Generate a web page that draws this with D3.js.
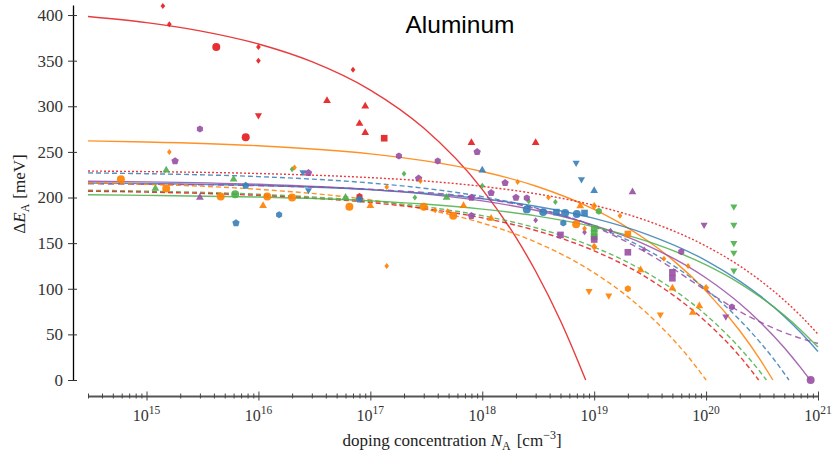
<!DOCTYPE html>
<html>
<head>
<meta charset="utf-8">
<script src="https://cdn.jsdelivr.net/npm/d3@7"></script>
<style>
  body { margin: 0; background: #fff; }
  svg { display: block; }
  .serif { font-family: "Liberation Serif", "DejaVu Serif", serif; }
</style>
</head>
<body>
<svg id="chart" width="840" height="452"></svg>
<script>
// colours of the five groups
var red = "#e41a1c", blue = "#377eb8", green = "#4daf4a", purple = "#984ea3", orange = "#ff7f00";

// fit curves, [N_A in cm^-3, dE_A in meV]
var fitRedSolid = [[3e14,398.4],[1e15,391.7],[3e15,382.7],[1e16,368.3],[3e16,348.9],[1e17,317.8],[3e17,276.1],[1e18,209],[2e18,156.2],[3e18,119.2],[5e18,64.9],[7e18,23.6],[8.4e18,0]];
var fitOrangeSolid = [[3e14,262.1],[1e15,260.9],[1e16,256.7],[1e17,247.8],[3e17,240.4],[1e18,228.5],[3e18,212.6],[1e19,186.9],[2e19,166.8],[3e19,152.6],[5e19,131.9],[1e20,97.4],[2e20,54.0],[3e20,23.5],[3.95e20,0]];
var fitRedDotted = [[3e14,229.0],[1e15,228.4],[1e16,226.3],[1e17,221.8],[3e17,218.2],[1e18,212.2],[3e18,204.2],[1e19,191.4],[3e19,174.3],[1e20,146.7],[2e20,125.0],[3e20,109.7],[5e20,87.3],[7e20,70.4],[1e21,50.2]];
var fitBlueDashed = [[3e14,227.0],[1e15,226.1],[1e16,222.9],[1e17,215.9],[3e17,210.2],[1e18,201.0],[3e18,188.7],[1e19,168.8],[3e19,142.2],[1e20,99.4],[2e20,65.7],[3e20,42.1],[4e20,23.3],[5.5e20,0]];
var fitPurpleSolid = [[3e14,217.9],[1e15,217.2],[1e16,214.5],[1e17,208.7],[3e17,204.0],[1e18,196.3],[3e18,186.0],[1e19,169.5],[3e19,147.4],[1e20,111.8],[2e20,83.8],[3e20,64.2],[5e20,35.4],[7e20,13.5],[8.5e20,0]];
var fitBlueSolid = [[3e14,215.9],[1e15,215.3],[1e16,213.2],[1e17,208.6],[3e17,204.7],[1e18,198.6],[3e18,190.4],[1e19,177.1],[3e19,159.4],[1e20,130.9],[2e20,108.4],[3e20,92.7],[5e20,69.6],[7e20,52.0],[1e21,31.2]];
var fitPurpleDashed = [[3e14,215],[1e15,214.5],[1e16,213],[1e17,209],[1e18,199],[3e18,188],[1e19,168],[2.2e19,148],[4.5e19,126],[1e20,98],[2e20,75],[3e20,64],[5e20,52],[1e21,40]];
var fitOrangeDashed = [[3e14,216.0],[1e15,214.5],[1e16,209.0],[1e17,197.3],[3e17,187.6],[1e18,172.0],[3e18,151.1],[1e19,117.5],[2e19,91.1],[3e19,72.5],[5e19,45.3],[7e19,24.7],[1e20,0]];
var fitGreenDashed = [[3e14,208.0],[1e15,207.0],[1e16,203.6],[1e17,196.1],[3e17,190.0],[1e18,180.1],[3e18,166.9],[1e19,145.6],[3e19,117.1],[1e20,71.2],[2e20,35.1],[3e20,9.8],[3.46e20,0]];
var fitRedDashed = [[3e14,206.9],[1e15,205.9],[1e16,202.3],[1e17,194.5],[3e17,188.0],[1e18,177.7],[3e18,163.9],[1e19,141.6],[3e19,111.7],[1e20,63.7],[2e20,26.0],[2.95e20,0]];
var fitGreenSolid = [[3e14,203.0],[1e15,202.4],[1e16,200.5],[1e17,196.3],[3e17,192.9],[1e18,187.3],[3e18,179.9],[1e19,167.9],[3e19,151.9],[1e20,126.1],[2e20,105.9],[3e20,91.6],[5e20,70.8],[7e20,54.9],[1e21,36.1]];

// measurements, [N_A, dE_A, source marker]
var ptsRed = [[1.4e15,410,"d"],[1.6e15,390,"d"],[4.2e15,365,"o"],[1e16,365,"d"],[1e16,350,"d"],[1e16,290,"v"],[7.7e15,266,"o"],
  [7e16,340,"d"],[4.1e16,306,"^"],[9e16,300,"^"],[8e16,281,"^"],[9e16,271,"^"],[1.33e17,265,"s"],[8e17,260,"^"],[3e18,260,"^"],[8e16,201,"h"]];
var ptsBlue = [[7.7e15,213,"p"],[6.3e15,172,"p"],[1.53e16,181,"h"],[2.5e16,227.5,"v"],[2.8e16,208,"v"],[8e16,198,"p"],[1e18,230,"^"],
  [6.9e18,238,"v"],[7.7e18,220,"v"],[1e19,207.5,"^"],[2.5e18,187,"o"],[3.5e18,184,"o"],[4.6e18,184,"s"],[5.5e18,183,"o"],[5.3e18,172,"h"],
  [7e18,182,"o"],[8.2e18,183,"s"]];
var ptsGreen = [[1.5e15,230,"^"],[6e15,220,"^"],[1.2e15,210,"^"],[6.2e15,203.5,"o"],[2e16,231,"d"],[6e16,200,"^"],[2e17,226,"d"],
  [2.5e17,200,"d"],[4.8e17,200,"^"],[1e18,213,"d"],[4.5e18,195,"d"],[2.6e18,196,"d"],[1.1e19,185,"h"],[1e19,166,"s"],[1e19,161,"s"],
  [1e19,157,"s"],[1.77e20,190,"v"],[1.77e20,170,"v"],[1.77e20,150,"v"],[1.77e20,139.5,"v"],[1.77e20,120,"v"]];
var ptsPurple = [[3e15,275,"h"],[1.8e15,240,"p"],[3e15,200,"^"],[2.8e16,227,"p"],[1.8e17,245.5,"h"],[4e17,240,"h"],[2.7e17,221,"p"],
  [9e17,250,"p"],[1.6e18,216,"p"],[1.2e18,205,"p"],[8e17,200,"p"],[2e18,200,"p"],[2.5e18,199.5,"h"],[8e17,180,"p"],[3e18,175,"d"],
  [5e18,159,"s"],[2.2e19,206,"^"],[9.6e19,170,"v"],[8.2e18,162,"d"],[1e19,154,"s"],[2e19,140,"s"],[2.8e19,143,"d"],[1.4e19,163.6,"d"],
  [6e19,140.6,"h"],[5e19,118,"s"],[5e19,111.5,"s"],[1.7e20,80,"h"],[1.5e20,69.5,"v"],[8.6e20,0,"o"]];
var ptsOrange = [[1.6e15,250,"d"],[5.9e14,220,"o"],[1.5e15,210,"o"],[4.6e15,201,"o"],[1.2e16,201,"o"],[1.1e16,191,"^"],[2.1e16,233,"d"],
  [2e16,200,"o"],[6.5e16,190,"o"],[1e17,191,"^"],[1.4e17,211.5,"d"],[2.8e17,218,"d"],[3e17,190,"o"],[1.4e17,125,"d"],[3.8e17,186,"d"],
  [4.9e17,185,"d"],[5.5e17,180,"o"],[6.8e17,191,"^"],[1.2e18,177,"^"],[2.07e18,217,"d"],[3.9e18,200,"d"],[6.9e18,170.6,"o"],
  [7.5e18,190.7,"^"],[1e19,190.7,"D"],[1.7e19,180,"d"],[8.2e18,166,"d"],[1e19,146,"D"],[2e19,160,"s"],[2.6e19,120.6,"^"],
  [4.2e19,133,"d"],[6.9e19,125,"d"],[5e19,100.5,"^"],[1e20,101,"D"],[8.7e19,81,"^"],[7.6e19,74,"^"],[9e18,97.5,"v"],
  [1.35e19,92.5,"v"],[2e19,100,"h"],[3.9e19,71.7,"v"]];

var yTicks = [0, 50, 100, 150, 200, 250, 300, 350, 400];
var xDecades = [15, 16, 17, 18, 19, 20, 21];

var svg = d3.select("#chart");
svg.append("rect").attr("width", 840).attr("height", 452).attr("fill", "#fff");

var x = d3.scaleLog().domain([3e14, 1e21]).range([88, 818]),
    y = d3.scaleLinear().domain([0, 411]).range([380, 5]);

// ---- axes ----
var yAxis = svg.append("g")
    .attr("transform", "translate(73,0)")
    .call(d3.axisLeft(y).tickValues(yTicks).tickSizeInner(5).tickSizeOuter(0).tickPadding(5));
yAxis.select(".domain").attr("stroke", "#000").attr("stroke-width", 1.3);
yAxis.selectAll(".tick line").attr("x1", 4).attr("stroke", "#333");
yAxis.selectAll(".tick text").attr("class", "serif").attr("font-size", 17).attr("fill", "#333");

var minorTicks = [];
for (var e = 14; e <= 20; e++) {
  for (var m = 1; m <= 9; m++) {
    var v = m * Math.pow(10, e);
    if (v >= 3e14 && v <= 1e21) minorTicks.push(v);
  }
}
minorTicks.push(1e21);

var xAxis = svg.append("g")
    .attr("transform", "translate(0,396)")
    .call(d3.axisBottom(x).tickValues(minorTicks).tickFormat("").tickSizeOuter(0));
xAxis.select(".domain").attr("stroke", "#555").attr("stroke-width", 1.8);
xAxis.selectAll(".tick line")
    .attr("stroke", "#444")
    .attr("y1", function(d) { return Math.abs(Math.log10(d) - Math.round(Math.log10(d))) < 1e-9 ? -4.5 : -2.5; })
    .attr("y2", function(d) { return Math.abs(Math.log10(d) - Math.round(Math.log10(d))) < 1e-9 ? 4.5 : 2.5; });

var xLab = svg.append("g").attr("class", "serif").attr("fill", "#333");
xDecades.forEach(function(p) {
  var t = xLab.append("text")
      .attr("x", x(Math.pow(10, p)))
      .attr("y", 421)
      .attr("text-anchor", "middle")
      .attr("font-size", 16);
  t.append("tspan").text("10");
  t.append("tspan").attr("font-size", 11.5).attr("dy", -7).text(p);
});

// axis titles
var xt = svg.append("text").attr("class", "serif")
    .attr("x", 452).attr("y", 446).attr("text-anchor", "middle")
    .attr("font-size", 17).attr("fill", "#222");
xt.append("tspan").text("doping concentration ");
xt.append("tspan").attr("font-style", "italic").text("N");
xt.append("tspan").attr("font-size", 12).attr("dy", 4).text("A");
xt.append("tspan").attr("dy", -4).attr("dx", 6).text("[cm");
xt.append("tspan").attr("font-size", 12).attr("dy", -7).text("\u22123");
xt.append("tspan").attr("dy", 7).text("]");

var yt = svg.append("text").attr("class", "serif")
    .attr("transform", "translate(25,194) rotate(-90)")
    .attr("text-anchor", "middle")
    .attr("font-size", 17).attr("fill", "#222");
yt.append("tspan").text("\u0394");
yt.append("tspan").attr("font-style", "italic").text("E");
yt.append("tspan").attr("font-size", 12).attr("dy", 4).text("A");
yt.append("tspan").attr("dy", -4).attr("dx", 5).text("[meV]");

svg.append("text")
    .attr("x", 460).attr("y", 33)
    .attr("text-anchor", "middle")
    .attr("font-family", "'Liberation Sans', Arial, sans-serif")
    .attr("font-size", 24.5)
    .attr("fill", "#000")
    .text("Aluminum");

// ---- fit curves ----
var fits = [
  { d: fitRedSolid, c: red, dash: null },
  { d: fitOrangeSolid, c: orange, dash: null },
  { d: fitRedDotted, c: red, dash: "2,2" },
  { d: fitBlueDashed, c: blue, dash: "5,3" },
  { d: fitPurpleSolid, c: purple, dash: null },
  { d: fitBlueSolid, c: blue, dash: null },
  { d: fitPurpleDashed, c: purple, dash: "6,4" },
  { d: fitOrangeDashed, c: orange, dash: "5,3" },
  { d: fitGreenDashed, c: green, dash: "5,3" },
  { d: fitRedDashed, c: red, dash: "5,3" },
  { d: fitGreenSolid, c: green, dash: null }
];

var line = d3.line()
    .x(function(d) { return x(d[0]); })
    .y(function(d) { return y(d[1]); })
    .curve(d3.curveMonotoneX);

svg.append("g").selectAll("path")
    .data(fits)
    .enter().append("path")
    .attr("d", function(f) { return line(f.d); })
    .attr("fill", "none")
    .attr("stroke", function(f) { return f.c; })
    .attr("stroke-width", 1.4)
    .attr("stroke-opacity", 0.85)
    .attr("stroke-dasharray", function(f) { return f.dash; });

// ---- markers ----
function polygon(n, rot) {
  return {
    draw: function(ctx, size) {
      var r = Math.sqrt(size / (n / 2 * Math.sin(2 * Math.PI / n)));
      for (var i = 0; i < n; i++) {
        var a = rot + i * 2 * Math.PI / n;
        if (i === 0) ctx.moveTo(r * Math.sin(a), -r * Math.cos(a));
        else ctx.lineTo(r * Math.sin(a), -r * Math.cos(a));
      }
      ctx.closePath();
    }
  };
}
var diamond = {
  draw: function(ctx, size) {
    var h = Math.sqrt(size * 1.4), w = h * 0.78;
    ctx.moveTo(0, -h / 2); ctx.lineTo(w / 2, 0); ctx.lineTo(0, h / 2); ctx.lineTo(-w / 2, 0); ctx.closePath();
  }
};
var shapes = { o: d3.symbolCircle, s: d3.symbolSquare, "^": polygon(3, 0), v: polygon(3, Math.PI),
               p: polygon(5, 0), h: polygon(6, 0), d: diamond, D: diamond };
var sizes = { o: 50, s: 44, "^": 26, v: 22, p: 36, h: 32, d: 26, D: 44 };

var groups = [
  { d: ptsRed, c: red }, { d: ptsBlue, c: blue }, { d: ptsGreen, c: green },
  { d: ptsPurple, c: purple }, { d: ptsOrange, c: orange }
];
var sym = d3.symbol();
groups.forEach(function(g) {
  svg.append("g").selectAll("path")
      .data(g.d)
      .enter().append("path")
      .attr("transform", function(d) { return "translate(" + x(d[0]) + "," + y(d[1]) + ")"; })
      .attr("d", function(d) { return sym.type(shapes[d[2]]).size(sizes[d[2]])(); })
      .attr("fill", g.c)
      .attr("fill-opacity", 0.9);
});
</script>
</body>
</html>
